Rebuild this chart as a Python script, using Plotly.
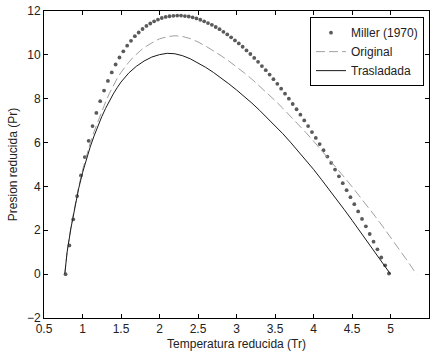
import plotly.graph_objects as go

# Miller (1970) correlation points, reduced temperature vs reduced pressure
miller_tr = [0.78, 0.83, 0.88, 0.93, 0.98, 1.03, 1.08, 1.13, 1.18, 1.23, 1.28, 1.33,
             1.38, 1.43, 1.48, 1.53, 1.58, 1.63, 1.68, 1.73, 1.78, 1.83, 1.88, 1.93,
             1.98, 2.03, 2.08, 2.13, 2.18, 2.23, 2.28, 2.33, 2.38, 2.43, 2.48, 2.53,
             2.58, 2.63, 2.68, 2.73, 2.78, 2.83, 2.88, 2.93, 2.98, 3.03, 3.08, 3.13,
             3.18, 3.23, 3.28, 3.33, 3.38, 3.43, 3.48, 3.53, 3.58, 3.63, 3.68, 3.73,
             3.78, 3.83, 3.88, 3.93, 3.98, 4.03, 4.08, 4.13, 4.18, 4.23, 4.28, 4.33,
             4.38, 4.43, 4.48, 4.53, 4.58, 4.63, 4.68, 4.73, 4.78, 4.83, 4.88, 4.93,
             4.98]
miller_pr = [0.00, 1.31, 2.50, 3.56, 4.50, 5.34, 6.08, 6.75, 7.35, 7.89, 8.37, 8.81,
             9.20, 9.56, 9.88, 10.16, 10.42, 10.64, 10.85, 11.02, 11.18, 11.32, 11.43, 11.53,
             11.61, 11.68, 11.73, 11.76, 11.78, 11.79, 11.79, 11.77, 11.75, 11.71, 11.66, 11.60,
             11.53, 11.45, 11.37, 11.27, 11.17, 11.05, 10.93, 10.80, 10.66, 10.52, 10.37, 10.20,
             10.04, 9.86, 9.68, 9.49, 9.30, 9.10, 8.89, 8.68, 8.46, 8.23, 8.00, 7.76,
             7.52, 7.27, 7.01, 6.75, 6.48, 6.21, 5.93, 5.65, 5.36, 5.07, 4.77, 4.46,
             4.15, 3.83, 3.51, 3.19, 2.86, 2.52, 2.18, 1.83, 1.48, 1.13, 0.76, 0.40,
             0.03]

# Original equation of state curve
orig_tr = [0.77, 0.78, 0.80, 0.85, 0.90, 0.95, 1.00, 1.05, 1.10, 1.15, 1.20, 1.25,
           1.30, 1.35, 1.40, 1.45, 1.50, 1.55, 1.60, 1.65, 1.70, 1.75, 1.80, 1.85,
           1.90, 1.95, 2.00, 2.10, 2.20, 2.30, 2.40, 2.50, 2.60, 2.70, 2.80, 2.90,
           3.00, 3.10, 3.20, 3.30, 3.40, 3.50, 3.60, 3.70, 3.80, 3.90, 4.00, 4.10,
           4.20, 4.30, 4.40, 4.50, 4.60, 4.70, 4.80, 4.90, 5.00, 5.10, 5.20, 5.30,
           5.34]
orig_pr = [0.00, 0.40, 1.02, 2.15, 3.12, 3.98, 4.74, 5.40, 5.98, 6.50, 6.98, 7.42,
           7.85, 8.25, 8.60, 8.92, 9.20, 9.44, 9.66, 9.86, 10.04, 10.19, 10.33, 10.45,
           10.56, 10.65, 10.73, 10.83, 10.87, 10.84, 10.74, 10.59, 10.40, 10.19, 9.96, 9.72,
           9.46, 9.18, 8.89, 8.58, 8.26, 7.92, 7.57, 7.21, 6.84, 6.46, 6.07, 5.67,
           5.26, 4.84, 4.42, 3.99, 3.55, 3.10, 2.64, 2.17, 1.69, 1.20, 0.70, 0.19,
           0.00]

# Volume-translated curve
tras_tr = [0.77, 0.78, 0.80, 0.85, 0.90, 0.95, 1.00, 1.05, 1.10, 1.15, 1.20, 1.25,
           1.30, 1.35, 1.40, 1.45, 1.50, 1.60, 1.70, 1.80, 1.90, 2.00, 2.10, 2.20,
           2.30, 2.40, 2.50, 2.60, 2.70, 2.80, 2.90, 3.00, 3.10, 3.20, 3.30, 3.40,
           3.50, 3.60, 3.70, 3.80, 3.90, 4.00, 4.10, 4.20, 4.30, 4.40, 4.50, 4.60,
           4.70, 4.80, 4.90, 5.00]
tras_pr = [0.00, 0.40, 1.00, 2.10, 3.05, 3.90, 4.62, 5.25, 5.80, 6.30, 6.76, 7.18,
           7.56, 7.90, 8.22, 8.50, 8.76, 9.17, 9.48, 9.72, 9.90, 10.01, 10.07, 10.05,
           9.96, 9.82, 9.64, 9.43, 9.20, 8.95, 8.68, 8.40, 8.11, 7.80, 7.47, 7.13,
           6.78, 6.41, 6.02, 5.62, 5.21, 4.78, 4.33, 3.88, 3.41, 2.94, 2.46, 1.97,
           1.48, 1.00, 0.50, 0.00]

x_ticks = [0.5, 1, 1.5, 2, 2.5, 3, 3.5, 4, 4.5, 5, 5.5]
x_tick_text = ["0.5", "1", "1.5", "2", "2.5", "3", "3.5", "4", "4.5", "5", "5.5"]
y_ticks = [-2, 0, 2, 4, 6, 8, 10, 12]

FONT = "Liberation Sans, Arial, Helvetica, sans-serif"

fig = go.Figure()
fig.add_trace(go.Scatter(
    x=miller_tr, y=miller_pr, mode="markers", name="Miller (1970)",
    marker=dict(symbol="circle", size=3.8, color="#5a5a5a", line=dict(width=0)),
))
fig.add_trace(go.Scatter(
    x=orig_tr, y=orig_pr, mode="lines", name="Original",
    line=dict(color="#a0a0a0", width=1, dash="9px,4px"),
))
fig.add_trace(go.Scatter(
    x=tras_tr, y=tras_pr, mode="lines", name="Trasladada",
    line=dict(color="#1a1a1a", width=1),
))

axis_common = dict(
    showline=True, linecolor="black", linewidth=1, mirror="ticks",
    ticks="inside", ticklen=4, tickcolor="black",
    showgrid=False, zeroline=False,
    tickfont=dict(family=FONT, size=12, color="#222222"),
)

fig.update_layout(
    width=437, height=356,
    margin=dict(l=44, r=8, t=11, b=38),
    paper_bgcolor="white", plot_bgcolor="white",
    showlegend=True,
    legend=dict(
        x=0.987, y=0.98, xanchor="right", yanchor="top",
        bgcolor="white", bordercolor="black", borderwidth=1,
        font=dict(family=FONT, size=12, color="#222222"),
    ),
    xaxis=dict(
        range=[0.5, 5.5], tickvals=x_ticks, ticktext=x_tick_text,
        title=dict(text="Temperatura reducida (Tr)", standoff=4,
                   font=dict(family=FONT, size=12, color="#222222")),
        automargin=False, **axis_common,
    ),
    yaxis=dict(
        range=[-2, 12], tickvals=y_ticks,
        title=dict(text="Presion reducida (Pr)", standoff=6,
                   font=dict(family=FONT, size=12, color="#222222")),
        automargin=False, **axis_common,
    ),
)

fig.write_html("out.html")
